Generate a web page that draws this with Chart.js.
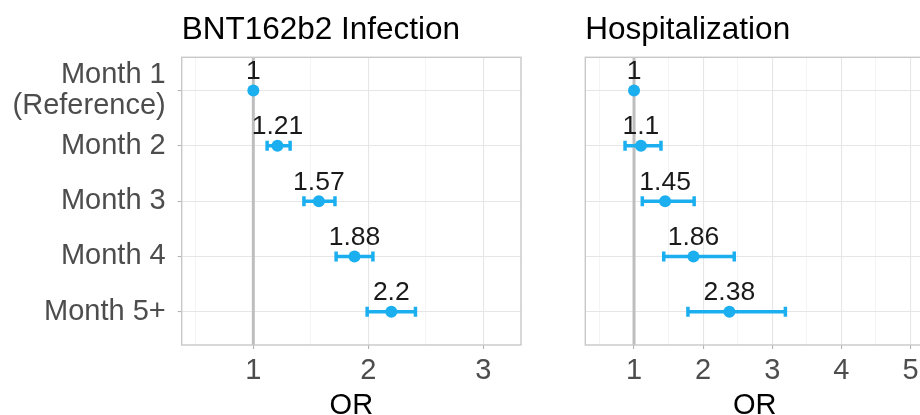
<!DOCTYPE html>
<html>
<head>
<meta charset="utf-8">
<script src="https://cdn.jsdelivr.net/npm/chart.js@4.4.1/dist/chart.umd.min.js"></script>
<style>
  html, body { margin: 0; padding: 0; background: #fff; overflow: hidden; }
  #wrap { position: relative; width: 920px; height: 415px; overflow: hidden; }
  canvas { position: absolute; top: 0; }
  #left { left: 0; }
  #right { left: 545px; }
</style>
</head>
<body>
<div id="wrap">
  <canvas id="left" width="545" height="430"></canvas>
  <canvas id="right" width="400" height="430"></canvas>
</div>
<script>
// rows, top to bottom
const months = [['Month 1', '(Reference)'], 'Month 2', 'Month 3', 'Month 4', 'Month 5+'];
const rowPos = [0, 1, 2, 3, 4];

// BNT162b2 infection odds ratios + CI
const infOR = [1, 1.21, 1.57, 1.88, 2.2];
const infLo = [1, 1.12, 1.44, 1.72, 1.99];
const infHi = [1, 1.32, 1.71, 2.04, 2.41];

// hospitalization odds ratios + CI
const hospOR = [1, 1.1, 1.45, 1.86, 2.38];
const hospLo = [1, 0.87, 1.12, 1.43, 1.78];
const hospHi = [1, 1.39, 1.87, 2.45, 3.19];

// x ticks (halves are minor grid only)
const infTicks = [0.5, 1, 1.5, 2, 2.5, 3];
const hospTicks = [0.5, 1, 1.5, 2, 2.5, 3, 3.5, 4, 4.5, 5];

const FONT = "'Liberation Sans', Arial, Helvetica, sans-serif";
const BLUE = '#1BAFEF';

const panelBorder = {
    id: 'panelBorder',
    afterDraw(chart) {
        const a = chart.chartArea, ctx = chart.ctx;
        ctx.save();
        ctx.strokeStyle = '#C8C8C8';
        ctx.lineWidth = 1.4;
        ctx.strokeRect(a.left, a.top, a.right - a.left, a.bottom - a.top);
        ctx.restore();
    }
};

const valueLabels = {
    id: 'valueLabels',
    afterDatasetsDraw(chart) {
        const ctx = chart.ctx;
        const meta = chart.getDatasetMeta(0);
        const vals = chart.data.datasets[0].data;
        ctx.save();
        ctx.font = '26.5px ' + FONT;
        ctx.fillStyle = '#1A1A1A';
        ctx.textAlign = 'center';
        ctx.textBaseline = 'alphabetic';
        meta.data.forEach((pt, i) => {
            ctx.fillText(String(vals[i].x), pt.x, pt.y - 11.5);
        });
        ctx.restore();
    }
};

function makePanel(id, title, or, lo, hi, ticks, xmin, xmax, yWidth, padRight, showY) {
    let datasets = [];
    datasets.push({
        data: or.map((v, i) => ({ x: v, y: rowPos[i] })),
        backgroundColor: BLUE,
        borderColor: BLUE,
        pointRadius: 6,
        borderWidth: 0,
        order: 0
    });
    for (let i = 0; i < or.length; i++) {
        if (lo[i] === hi[i]) continue;
        datasets.push({
            data: [{ x: lo[i], y: rowPos[i] }, { x: hi[i], y: rowPos[i] }],
            showLine: true,
            borderColor: BLUE,
            borderWidth: 3.5,
            pointStyle: 'line',
            rotation: 90,
            pointRadius: 5,
            pointBorderWidth: 3.5,
            pointBorderColor: BLUE,
            order: 1
        });
    }
    // reference line at OR = 1
    datasets.push({
        data: [{ x: 1, y: -0.6 }, { x: 1, y: 4.6 }],
        showLine: true,
        borderColor: '#BEBEBE',
        borderWidth: 3,
        pointRadius: 0,
        order: 2
    });

    return new Chart(document.getElementById(id), {
        type: 'scatter',
        data: { datasets: datasets },
        options: {
            responsive: false,
            animation: false,
            devicePixelRatio: 1,
            layout: { padding: { left: 0, right: padRight, top: 0, bottom: 0 } },
            plugins: {
                legend: { display: false },
                tooltip: { enabled: false },
                title: {
                    display: true,
                    text: title,
                    align: 'start',
                    fullSize: false,
                    color: '#000',
                    font: { family: FONT, size: 31.5, weight: 'normal', lineHeight: 1.2 },
                    padding: { top: 11.4, bottom: 8.1 }
                }
            },
            scales: {
                x: {
                    type: 'linear',
                    min: xmin,
                    max: xmax,
                    afterBuildTicks: s => { s.ticks = ticks.map(v => ({ value: v })); },
                    afterFit: s => { s.height = 85; },
                    border: { display: false },
                    grid: {
                        color: c => (c.tick && c.tick.value % 1 === 0) ? '#E6E6E6' : '#F1F1F1',
                        lineWidth: c => (c.tick && c.tick.value % 1 === 0) ? 1.1 : 0.8,
                        drawTicks: true,
                        tickLength: 4,
                        tickColor: c => (c.tick && c.tick.value % 1 === 0) ? '#B3B3B3' : 'rgba(0,0,0,0)',
                        tickWidth: 1.1
                    },
                    ticks: {
                        autoSkip: false,
                        maxRotation: 0,
                        padding: 4.6,
                        color: '#4D4D4D',
                        font: { family: FONT, size: 29 },
                        callback: v => (v % 1 === 0 ? String(v) : '')
                    },
                    title: {
                        display: true,
                        text: 'OR',
                        color: '#000',
                        font: { family: FONT, size: 29, lineHeight: 1.2 },
                        padding: { top: 0, bottom: 6.8 }
                    }
                },
                y: {
                    type: 'linear',
                    reverse: true,
                    min: -0.6,
                    max: 4.6,
                    afterBuildTicks: s => { s.ticks = rowPos.map(v => ({ value: v })); },
                    afterFit: s => { s.width = yWidth; },
                    border: { display: false },
                    grid: {
                        color: '#E6E6E6',
                        lineWidth: 1.1,
                        drawTicks: showY,
                        tickLength: 4,
                        tickColor: '#B3B3B3'
                    },
                    ticks: {
                        display: showY,
                        autoSkip: false,
                        padding: 12,
                        color: '#4D4D4D',
                        font: { family: FONT, size: 29, lineHeight: 1.05 },
                        callback: v => months[v]
                    }
                }
            }
        },
        plugins: [panelBorder, valueLabels]
    });
}

makePanel('left', 'BNT162b2 Infection', infOR, infLo, infHi, infTicks, 0.377, 3.328, 181.7, 24, true);
makePanel('right', 'Hospitalization', hospOR, hospLo, hospHi, hospTicks, 0.295, 5.2, 40.3, 20.7, false);
</script>
</body>
</html>
